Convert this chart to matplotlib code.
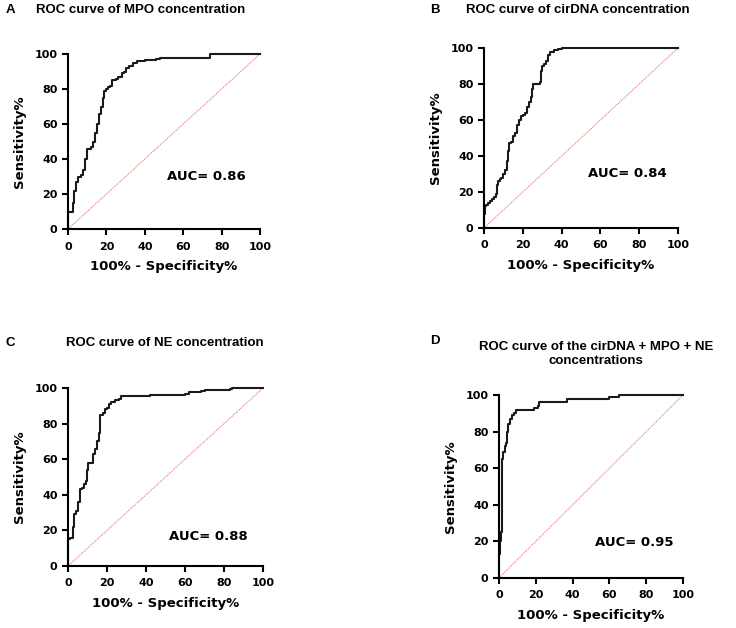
import matplotlib.pyplot as plt

plt.rcParams['font.family'] = 'DejaVu Sans'
plt.rcParams['font.weight'] = 'bold'

# ROC step vertices (100% - specificity, sensitivity)
mpo_x = [0, 0, 2, 2.5, 3, 4, 5, 7, 8, 9, 10, 12, 13, 14, 15, 16, 17, 18, 18.5, 20, 21, 22, 23, 25, 26,
         28, 29, 30, 32, 34, 36, 40, 46, 48, 74, 100]
mpo_y = [0, 10, 10, 15, 22, 27, 30, 31, 34, 40, 46, 47, 50, 55, 60, 66, 70, 75, 79, 80, 81, 82, 85, 86, 87,
         89, 90, 92, 93, 95, 96, 96.5, 97, 98, 100, 100]

dna_x = [0, 0, 0.5, 1, 2, 3, 4, 5, 6, 6.5, 7, 8, 9, 10, 11, 12, 12.5, 13, 14, 15, 16, 17, 18, 19, 20, 21,
         22, 23, 24, 24.5, 25, 29, 29.5, 30, 31, 32, 33, 34, 36, 38, 40, 100]
dna_y = [0, 8, 12, 13, 14, 15, 16, 17, 19, 24, 26, 27, 28, 30, 32, 37, 43, 47, 48, 51, 53, 57, 60, 62, 63, 64,
         67, 70, 73, 77, 80, 81, 87, 90, 91, 93, 96, 98, 99, 99.5, 100, 100]

ne_x = [0, 0, 0, 1, 2, 2.5, 3, 4, 5, 6, 7, 8, 9, 9.5, 10, 12, 13, 14, 15, 16, 16.5, 18, 19, 20, 21, 22, 24,
        26, 27, 40, 42, 60, 62, 68, 70, 83, 84, 100]
ne_y = [0, 8, 15, 16, 16, 22, 29, 31, 36, 43, 44, 46, 48, 54, 58, 58, 63, 66, 70, 75, 85, 86, 88, 89, 91, 92, 93,
        94, 95.5, 95.5, 96, 96.5, 98, 98.5, 99, 99.5, 100, 100]

comb_x = [0, 0, 0.5, 0.5, 1, 1.5, 1.5, 2, 3, 4, 4.5, 5, 6, 7, 8, 9, 18, 19, 21, 22, 36, 37, 59, 60, 64, 65, 100]
comb_y = [0, 13, 14, 20, 25, 27, 65, 69, 72, 74, 80, 84, 87, 89, 90, 92, 92, 93, 94, 96, 96, 98, 98, 99, 99, 100, 100]

fig = plt.figure(figsize=(7.36, 6.28), dpi=100)
W, H = 736, 628


def panel(left, top, right, bottom, xs, ys, auc, auc_xy):
    ax = fig.add_axes([left / W, 1 - bottom / H, (right - left) / W, (bottom - top) / H])
    ax.plot([0, 100], [0, 100], color='#e8605c', lw=0.7, ls=(0, (1, 1)))
    ax.plot(xs, ys, color='#1a1a1a', lw=1.5, drawstyle='steps-post', clip_on=False)
    ax.set_xlim(0, 100)
    ax.set_ylim(0, 100)
    ax.set_xticks(range(0, 101, 20))
    ax.set_yticks(range(0, 101, 20))
    for s in ['top', 'right']:
        ax.spines[s].set_visible(False)
    for s in ['left', 'bottom']:
        ax.spines[s].set_linewidth(1.5)
    ax.tick_params(width=1.5, length=4, labelsize=8)
    ax.tick_params(axis='x', pad=5)
    ax.tick_params(axis='y', pad=3.5)
    for lab in ax.get_xticklabels() + ax.get_yticklabels():
        lab.set_fontweight('bold')
    ax.set_xlabel('100% - Specificity%', fontsize=9.5, fontweight='bold', labelpad=6)
    ax.set_ylabel('Sensitivity%', fontsize=9.5, fontweight='bold', labelpad=6)
    ax.text(auc_xy[0], auc_xy[1], 'AUC= ' + auc, fontsize=9.5, fontweight='bold', va='center')
    return ax


panel(68, 54, 260, 229, mpo_x, mpo_y, '0.86', (51.5, 30))
panel(484, 48, 678, 228, dna_x, dna_y, '0.84', (53.5, 30.5))
panel(68, 388, 263, 566, ne_x, ne_y, '0.88', (52, 16.5))
panel(499, 395, 683, 578, comb_x, comb_y, '0.95', (52, 19.3))


def ftext(x, y, s, **kw):
    fig.text(x / W, 1 - y / H, s, fontsize=9.5, fontweight='bold', va='center',
             family='Liberation Sans', **kw)


ftext(6, 10, 'A')
ftext(141, 10, 'ROC curve of MPO concentration', ha='center')
ftext(430, 10, 'B')
ftext(578, 10, 'ROC curve of cirDNA concentration', ha='center')
ftext(5, 343, 'C')
ftext(165, 343, 'ROC curve of NE concentration', ha='center')
ftext(430, 341, 'D')
ftext(596, 354, 'ROC curve of the cirDNA + MPO + NE\nconcentrations', ha='center', linespacing=1.2)

fig.savefig('out.png', dpi=100)
